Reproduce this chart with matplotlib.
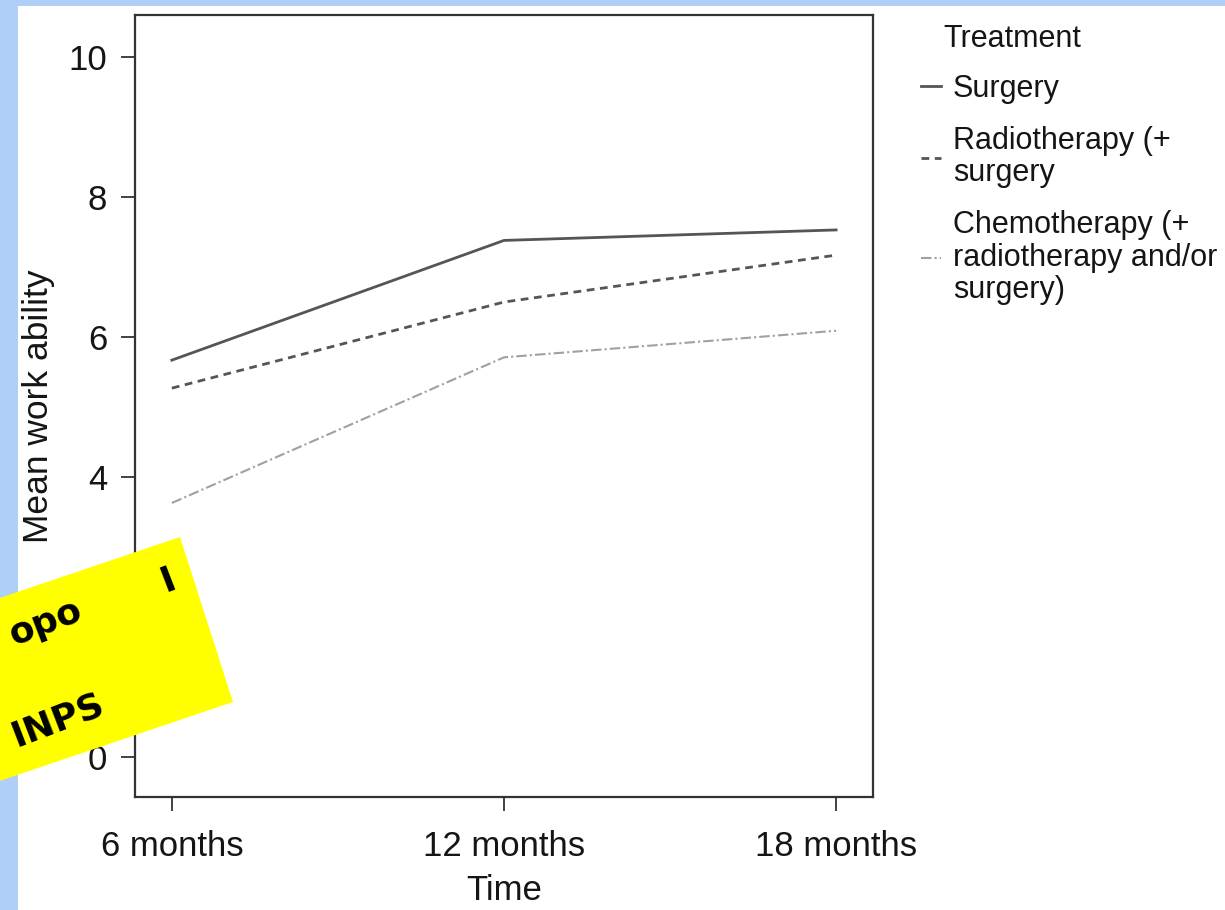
import matplotlib.pyplot as plt
from matplotlib.patches import Polygon, Rectangle

plt.rcParams['font.family'] = ['Liberation Sans', 'DejaVu Sans']

# mean work ability by treatment group over follow-up
time_labels = ['6 months', '12 months', '18 months']
surgery = [5.67, 7.38, 7.53]
radiotherapy = [5.27, 6.50, 7.17]
chemotherapy = [3.63, 5.71, 6.09]

series_labels = ['Surgery', 'Radiotherapy (+\nsurgery',
                 'Chemotherapy (+\nradiotherapy and/or\nsurgery)']

W, H = 1225, 910
fig = plt.figure(figsize=(W / 100, H / 100), dpi=100)
fig.patch.set_facecolor('#afcff8')
fig.add_artist(Rectangle((18 / W, 0), 1, 1 - 6 / H, transform=fig.transFigure,
                         facecolor='white', edgecolor='none', zorder=-10))


def px(x, y):
    return x / W, 1 - y / H


ax = fig.add_axes([135 / W, 1 - 797 / H, (873 - 135) / W, (797 - 15) / H])
x = range(len(time_labels))
ax.plot(x, surgery, color='#555555', lw=2.0, label=series_labels[0])
ax.plot(x, radiotherapy, color='#555555', lw=2.0, dashes=(2.8, 2),
        label=series_labels[1])
ax.plot(x, chemotherapy, color='#a0a0a0', lw=1.5, dashes=(5, 1.5, 1, 1.5),
        label=series_labels[2])

ax.set_xlim(-0.111, 2.111)
ax.set_ylim(-0.57, 10.6)
ax.set_xticks(list(x))
ax.set_xticklabels(time_labels)
ax.set_yticks([0, 2, 4, 6, 8, 10])
ax.tick_params(axis='both', labelsize=25, length=10, width=1.3, color='#333333',
               pad=10, labelcolor='#151515')
ax.tick_params(axis='x', pad=14)
for s in ax.spines.values():
    s.set_linewidth(1.6)
    s.set_color('#333333')
ax.set_xlabel('Time', fontsize=25, color='#151515', labelpad=8)
ax.set_ylabel('Mean work ability', fontsize=25.5, color='#151515', labelpad=10)

fig.text(*px(943, 39), 'Treatment', fontsize=22, color='#151515',
         ha='left', va='center')
leg = fig.legend(loc='upper left', bbox_to_anchor=px(921, 74), frameon=False,
                 fontsize=22, handlelength=0.65, handletextpad=0.4,
                 labelspacing=0.72, borderpad=0, borderaxespad=0)
for t in leg.get_texts():
    t.set_color('#151515')
    t.set_linespacing(1.1)

# yellow note pasted over the lower-left corner
corners = [(180, 537), (233, 702), (-240, 862), (-293, 697)]
fig.add_artist(Polygon([px(a, b) for a, b in corners], closed=True,
                       transform=fig.transFigure, facecolor='#ffff00',
                       edgecolor='none', zorder=20))
for tx, ty, s in [(46, 623, 'opo'), (168, 580, 'I'), (58, 720, 'INPS')]:
    fig.text(*px(tx, ty), s, fontsize=26, fontweight='bold', color='black',
             family='DejaVu Sans', ha='center', va='center', rotation=21,
             rotation_mode='anchor', zorder=21)

fig.savefig('out.png', dpi=100)
